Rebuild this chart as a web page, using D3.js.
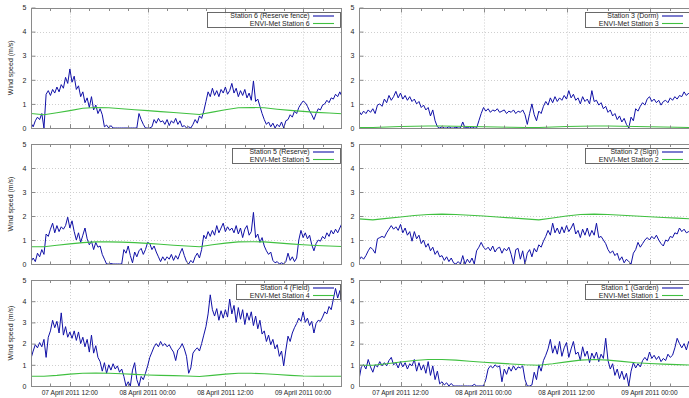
<!DOCTYPE html>
<html>
<head>
<meta charset="utf-8">
<script src="https://cdn.jsdelivr.net/npm/d3@7/dist/d3.min.js"></script>
<style>
  body { margin: 0; background: #fff; }
  svg { display: block; font-family: "Liberation Sans", Arial, sans-serif; }
</style>
</head>
<body>
<svg id="chart" width="689" height="398"></svg>
<script>
// Measured wind speed (m/s), one value every 20 minutes from 07 April 2011 06:00 UTC
const station6 = [
  0.2,0.05,0.3,0.45,0.35,0.6,0.0,1.4,1.55,1.35,
  1.6,1.45,1.7,1.5,1.8,1.65,2.1,1.85,2.45,1.9,
  2.15,1.6,1.75,1.3,1.5,1.05,1.25,0.85,1.3,0.75,
  0.95,0.6,0.8,0.55,0.05,0.12,0,0.1,0,0,
  0,0,0,0,0,0,0,0,0,0,
  0.6,0.35,0.15,0,0,0,0.05,0.35,0.2,0.4,
  0.25,0.3,0.15,0.35,0.1,0.3,0.2,0.4,0.15,0.3,
  0.05,0.1,0,0.05,0,0.15,0.35,0.2,0.5,0.4,
  0.7,1.1,1.5,1.3,1.65,1.35,1.55,1.3,1.6,1.45,
  1.7,1.4,1.55,1.85,1.45,1.65,1.3,1.55,1.35,1.6,
  1.25,1.45,1.15,1.95,1.1,1.2,0.9,0.6,0.35,0.15,
  0.25,0.05,0.2,0,0.15,0.05,0.25,0,0.3,0.35,
  0.55,0.45,0.7,0.6,0.85,1.0,1.12,1.05,0.9,0.7,
  0.55,0.35,0.6,0.8,0.75,0.95,1.0,1.15,1.05,1.25,
  1.2,1.4,1.3,1.5,1.3
];
const station3 = [
  0.7,0.55,0.7,0.6,0.75,0.65,0.8,0.6,0.95,1.0,
  0.9,1.2,1.05,1.35,1.15,1.3,1.52,1.25,1.45,1.2,
  1.35,1.15,1.3,1.1,1.2,1.0,1.1,0.85,0.95,0.75,
  0.85,0.5,0.75,0.3,0.05,0,0.05,0,0,0.05,
  0,0,0.03,0,0,0.25,0,0.02,0,0.05,
  0,0,0.3,0.6,0.85,0.7,0.8,0.65,0.75,0.7,
  0.8,0.65,0.7,0.75,0.6,0.7,0.65,0.75,0.6,0.7,
  0.65,0.75,0.55,0.15,0.6,1.0,0.55,0.3,0.7,0.6,
  0.9,1.1,0.95,1.25,1.05,1.3,1.1,1.25,1.15,1.35,
  1.2,1.55,1.25,1.4,1.15,1.25,1.0,1.3,1.1,1.2,
  1.0,1.55,1.1,1.15,0.95,1.05,0.8,0.9,0.65,0.75,
  0.5,0.6,0.35,0.5,0.25,0.4,0.15,0,0.45,0.3,
  0.8,0.7,0.9,1.05,0.95,1.2,1.3,1.1,1.2,1.05,
  1.15,0.95,1.1,1.15,1.05,1.25,1.15,1.3,1.2,1.35,
  1.3,1.5,1.35,1.45,1.3
];
const station5 = [
  0.1,0.25,0.1,0.45,0.3,0.6,0.4,1.25,1.15,1.45,
  1.7,1.3,1.6,1.35,1.55,1.45,1.6,1.95,1.5,1.8,
  1.35,1.0,1.3,0.9,1.2,1.5,1.05,0.8,0.95,0.6,
  0.9,0.7,0.75,0.4,0.2,0,0,0.02,0,0,
  0,0,0,0.6,0.45,0.75,0.35,0.05,0.5,0.3,
  0.55,0.65,0.4,0.6,0.9,0.85,0.6,0.75,0.5,0.3,
  0.1,0.3,0.15,0.3,0.2,0.4,0.15,0.35,0.2,0.45,
  0.65,0.35,0.1,0,0.15,0.05,0.3,0.45,0.25,0.6,
  1.2,1.05,1.35,1.15,1.4,1.2,1.6,1.3,1.5,1.7,
  1.35,1.55,1.4,1.5,1.3,1.6,1.25,1.5,1.1,1.45,
  1.6,1.2,1.35,2.15,1.1,1.25,0.9,1.1,0.75,0.55,
  0.4,0.5,0.15,0.05,0.1,0,0.05,0,0.1,0.45,
  0.15,0.3,0.1,0.25,1.0,1.4,1.1,1.3,1.05,1.2,
  0.8,0.55,0.85,1.0,0.95,1.15,1.05,1.3,1.15,1.4,
  1.25,1.45,1.3,1.5,1.7
];
const station2 = [
  0.15,0.3,0.2,0.35,0.55,0.7,0.6,0.45,1.05,1.1,
  1.15,1.1,1.3,1.45,1.6,1.45,1.55,1.4,1.65,1.3,
  1.5,1.2,1.35,0.95,1.35,1.05,1.2,0.85,1.0,0.7,
  0.85,0.55,0.7,0.4,0.55,0.3,0.35,0.15,0.3,0.1,
  0.25,0.05,0,0.1,0,0.35,0,0.2,0.05,0.25,
  0,0.55,0.7,0.9,0.7,0.6,0.7,0.55,0.75,0.5,
  0.65,0.7,0.45,0.65,0.55,0.7,0.4,0,0.6,0.65,
  0.2,0.55,0,0.45,0.6,0.3,0.65,0.5,0.8,0.7,
  0.95,1.15,1.4,1.2,1.7,1.3,1.5,1.25,1.55,1.3,
  1.6,1.35,1.5,1.7,1.25,1.4,1.1,1.45,1.2,1.5,
  1.15,1.4,1.2,1.7,1.1,1.15,1.0,0.85,0.6,0.45,
  0.55,0.35,0.45,0.15,0.3,0.05,0.2,0.1,0,0.45,
  0.6,0.9,0.7,0.85,1.0,1.1,1.0,1.15,1.05,1.2,
  1.0,0.85,0.75,1.0,0.95,1.15,1.1,1.3,1.25,1.5,
  1.35,1.45,1.3,1.35,1.25
];
const station4 = [
  1.3,1.65,1.95,1.8,2.05,1.85,2.2,1.35,2.3,2.6,
  3.1,2.75,3.05,2.5,3.45,2.4,2.8,2.3,2.55,2.25,
  2.6,2.15,2.55,2.0,2.3,1.85,2.2,1.6,2.4,1.55,
  1.9,1.35,1.15,0.7,1.1,0.6,1.0,0.75,1.05,0.8,
  0.95,0.65,0.8,0.45,0,0.2,0,0.75,1.1,0.3,
  0,0.45,0.3,0.6,0.95,1.35,1.6,1.85,2.0,1.85,
  2.1,1.9,2.0,1.85,1.95,1.75,1.6,1.2,1.7,1.8,
  2.0,1.75,1.4,0.6,0.85,1.55,1.7,1.8,1.65,2.0,
  2.4,2.8,3.4,4.3,3.6,3.3,3.65,3.1,3.55,3.2,
  3.6,3.25,4.1,3.4,3.8,3.0,3.7,3.15,3.6,2.9,
  3.45,3.1,3.5,2.85,3.3,2.7,3.1,2.45,2.6,2.1,
  2.4,1.95,2.2,1.75,1.95,1.4,1.65,0.95,1.7,2.35,
  2.1,2.5,2.75,2.95,3.2,3.05,3.5,3.0,3.2,2.85,
  3.05,2.5,2.95,3.1,3.05,3.25,3.5,3.4,3.75,3.6,
  4.1,4.6,4.15,4.5,3.8
];
const station1 = [
  0.3,0.9,1.0,0.8,1.25,0.9,0.65,1.0,0.9,1.15,
  0.95,1.1,0.95,1.2,1.35,1.0,1.1,0.85,1.15,0.9,
  1.1,0.8,1.05,0.95,1.25,0.7,1.1,0.75,1.0,0.6,
  1.15,0.5,0.95,0.3,0.7,0.1,0.2,0.05,0.15,0,
  0.12,0,0,0,0,0,0,0,0,0,
  0.08,0,0,0,0,0.3,0.8,0.95,0.85,1.0,
  0.9,0.95,0.2,0.8,0.55,0.9,0.7,0.95,0.75,0.9,
  0.85,0.95,0.3,0,0,0.05,0.65,0.3,1.0,0.7,
  1.2,1.45,1.75,2.2,1.55,1.9,1.5,2.1,1.4,1.8,
  2.05,1.35,1.75,2.1,1.5,1.6,1.2,1.85,1.4,1.65,
  1.1,1.55,1.3,1.6,1.15,1.5,1.3,2.25,1.2,0.8,
  1.05,0.5,0.8,0.35,0.7,0.3,0.6,0,0.7,1.1,
  0.85,1.05,0.9,1.2,1.35,1.2,1.6,1.3,1.45,1.25,
  1.4,1.15,1.3,1.2,1.5,1.35,1.45,1.8,2.25,2.0,
  1.8,2.0,1.7,2.1,1.9
];

// ENVI-Met modelled wind speed (m/s), one value every 2 hours from 07 April 2011 06:00 UTC
const envi6 = [0.6,0.55,0.63,0.72,0.82,0.85,0.84,0.8,0.76,0.72,0.68,0.64,0.6,0.56,0.66,0.76,0.84,0.85,0.84,0.78,0.73,0.69,0.65,0.62,0.59];
const envi3 = [0.02,0.02,0.04,0.06,0.07,0.08,0.08,0.07,0.06,0.05,0.04,0.03,0.02,0.02,0.04,0.06,0.07,0.08,0.08,0.07,0.06,0.05,0.04,0.03,0.02];
const envi5 = [0.72,0.72,0.78,0.84,0.89,0.92,0.92,0.91,0.89,0.86,0.82,0.78,0.75,0.72,0.8,0.87,0.92,0.93,0.92,0.88,0.84,0.8,0.77,0.75,0.73];
const envi2 = [1.88,1.84,1.9,1.96,2.02,2.06,2.08,2.06,2.03,2.0,1.96,1.92,1.88,1.84,1.92,2.0,2.06,2.08,2.06,2.03,2.0,1.97,1.94,1.91,1.88];
const envi4 = [0.46,0.46,0.5,0.56,0.6,0.61,0.6,0.58,0.55,0.52,0.5,0.49,0.47,0.45,0.5,0.56,0.6,0.6,0.58,0.54,0.5,0.47,0.46,0.46,0.46];
const envi1 = [0.98,0.98,1.05,1.13,1.2,1.25,1.25,1.22,1.17,1.12,1.08,1.04,1.0,0.98,1.05,1.14,1.22,1.25,1.22,1.16,1.1,1.06,1.03,1.01,0.99];

const obsNames = ["Station 6 (Reserve fence)", "Station 3 (Dorm)", "Station 5 (Reserve)", "Station 2 (Sign)", "Station 4 (Field)", "Station 1 (Garden)"];
const simNames = ["ENVI-Met Station 6", "ENVI-Met Station 3", "ENVI-Met Station 5", "ENVI-Met Station 2", "ENVI-Met Station 4", "ENVI-Met Station 1"];
const yTicks = [0, 1, 2, 3, 4, 5];
const yTitle = "Wind speed (m/s)";

const t0 = Date.UTC(2011, 3, 7, 6, 0);
const t1 = Date.UTC(2011, 3, 9, 6, 0);
const obsStep = 20 * 60 * 1000;
const simStep = 2 * 3600 * 1000;

const obsSeries = [station6, station3, station5, station2, station4, station1];
const simSeries = [envi6, envi3, envi5, envi2, envi4, envi1];

const cols = [{ x0: 31, x1: 342 }, { x0: 359, x1: 691 }];
const rows = [{ y0: 7.5, y1: 128 }, { y0: 144, y1: 264 }, { y0: 280, y1: 386 }];

const BLUE = "#1010a6";
const GREEN = "#40c040";
const FRAME = "#8a8a8a";
const GRID = "#cfcfcf";
const TEXT = "#1e1e1e";

const svg = d3.select("#chart");
const fmt = d3.utcFormat("%d %B %Y %H:%M");

obsSeries.forEach((obs, k) => {
  const col = cols[k % 2], row = rows[Math.floor(k / 2)];
  const isBottom = row === rows[2];
  const x = d3.scaleUtc().domain([t0, t1]).range([col.x0, col.x1]);
  const y = d3.scaleLinear().domain([0, 5]).range([row.y1, row.y0]);
  const g = svg.append("g");

  const majors = d3.utcHour.every(12).range(new Date(t0 + 1), new Date(t1));
  const minors = d3.utcHour.every(3).range(new Date(t0 + 1), new Date(t1));

  // dotted grid
  g.selectAll(".gy").data(yTicks.filter(v => v > 0 && v < 5)).join("line")
    .attr("x1", col.x0).attr("x2", col.x1)
    .attr("y1", d => Math.round(y(d)) + 0.5).attr("y2", d => Math.round(y(d)) + 0.5)
    .attr("stroke", GRID).attr("stroke-dasharray", "1,2");
  g.selectAll(".gx").data(majors).join("line")
    .attr("x1", d => Math.round(x(d)) + 0.5).attr("x2", d => Math.round(x(d)) + 0.5)
    .attr("y1", row.y0).attr("y2", row.y1)
    .attr("stroke", GRID).attr("stroke-dasharray", "1,2");

  // data lines clipped to the plot area
  const clipId = "clip" + k;
  svg.append("clipPath").attr("id", clipId).append("rect")
    .attr("x", col.x0).attr("y", row.y0 - 1)
    .attr("width", col.x1 - col.x0).attr("height", row.y1 - row.y0 + 2);
  const lines = g.append("g").attr("clip-path", `url(#${clipId})`);

  const obsLine = d3.line().x((d, i) => x(t0 + i * obsStep)).y(d => y(d));
  const simLine = d3.line().x((d, i) => x(t0 + i * simStep)).y(d => y(d));
  lines.append("path").attr("d", obsLine(obs))
    .attr("fill", "none").attr("stroke", BLUE).attr("stroke-width", 1).attr("stroke-linejoin", "round");
  lines.append("path").attr("d", simLine(simSeries[k]))
    .attr("fill", "none").attr("stroke", GREEN).attr("stroke-width", 1.1);

  // frame
  g.append("rect")
    .attr("x", col.x0 + 0.5).attr("y", Math.round(row.y0) + 0.5)
    .attr("width", col.x1 - col.x0 - 1).attr("height", row.y1 - Math.round(row.y0))
    .attr("fill", "none").attr("stroke", FRAME);

  // y axis
  const ya = g.append("g").attr("transform", `translate(${col.x0 + 0.5},0)`)
    .call(d3.axisLeft(y).tickValues(yTicks).tickFormat(d3.format("d"))
      .tickSizeInner(-4).tickSizeOuter(0).tickPadding(5));
  ya.select(".domain").remove();
  ya.selectAll("line").attr("stroke", FRAME);
  ya.selectAll("text").attr("fill", TEXT).style("font-size", "7px").style("font-family", "inherit");

  // x ticks on bottom and top (major every 12 h, minor every 3 h)
  [[row.y1, -1], [Math.round(row.y0) + 0.5, 1]].forEach(([yy, dir]) => {
    g.selectAll(null).data(minors).join("line")
      .attr("x1", d => Math.round(x(d)) + 0.5).attr("x2", d => Math.round(x(d)) + 0.5)
      .attr("y1", yy).attr("y2", d => yy + dir * (majors.some(m => +m === +d) ? 4 : 2.5))
      .attr("stroke", FRAME);
  });

  if (isBottom) {
    g.selectAll(".xl").data(majors).join("text")
      .attr("x", d => x(d)).attr("y", row.y1 + 9.3)
      .attr("text-anchor", "middle").attr("fill", TEXT).style("font-size", "6.6px")
      .text(d => fmt(d));
  }

  if (k % 2 === 0) {
    g.append("text")
      .attr("transform", `translate(12.5,${(row.y0 + row.y1) / 2}) rotate(-90)`)
      .attr("text-anchor", "middle").attr("fill", TEXT).style("font-size", "7px")
      .text(yTitle);
  }

  // legend
  const textRight = col.x1 - 32.3;
  const nChars = Math.max(obsNames[k].length, simNames[k].length);
  const top = Math.round(row.y0);
  const lg = g.append("g");
  lg.append("rect")
    .attr("x", Math.round(textRight - nChars * 4.1) + 0.5).attr("y", top + 4.5)
    .attr("width", Math.round(col.x1 - 2 - (textRight - nChars * 4.1))).attr("height", 15)
    .attr("fill", "none").attr("stroke", "#5a5a5a").attr("stroke-width", 0.9);
  [[obsNames[k], BLUE, top + 8], [simNames[k], GREEN, top + 15.5]].forEach(([name, color, cy]) => {
    lg.append("text").attr("x", textRight).attr("y", cy + 2.4)
      .attr("text-anchor", "end").attr("fill", TEXT).style("font-size", "7px").text(name);
    lg.append("line").attr("x1", col.x1 - 29).attr("x2", col.x1 - 8)
      .attr("y1", cy).attr("y2", cy).attr("stroke", color).attr("stroke-width", 1.1);
  });
});
</script>
</body>
</html>
